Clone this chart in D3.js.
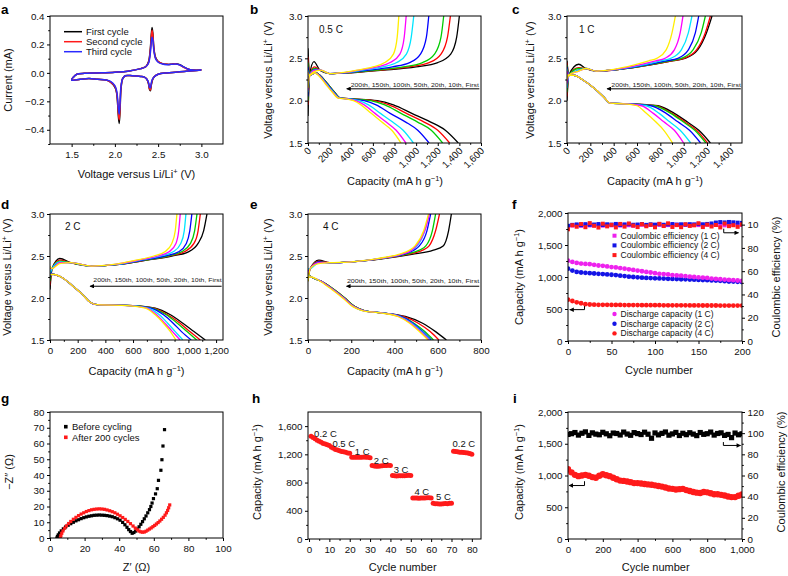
<!DOCTYPE html>
<html><head><meta charset="utf-8">
<script src="https://cdn.jsdelivr.net/npm/d3@7"></script>
<style>body{margin:0;background:#fff}svg{display:block}</style>
</head><body>
<script>
// ---------------- DATA ----------------
const cycleNames = ["First","10th","20th","50th","100th","150th","200th"];
const cycleColors = ["#000000","#ff0000","#00cc00","#0000ff","#00e5ff","#ff00ff","#ffee00"];
const noteText = "200th, 150th, 100th, 50th, 20th, 10th, First";

// (a) cyclic voltammetry
const cvNames = ["First cycle","Second cycle","Third cycle"];
const cvColors = ["#000000","#ff1a1a","#2a2aff"];
const cvV  = [3.00,2.90,2.80,2.70,2.60,2.50,2.45,2.43,2.42,2.41,2.40,2.39,2.37,2.34,2.30,2.20,2.12,2.09,2.07,2.06,2.05,2.04,2.03,2.02,2.00,1.95,1.90,1.80,1.70,1.60,1.50,1.52,1.56,1.65,1.80,2.00,2.15,2.30,2.36,2.39,2.41,2.42,2.43,2.44,2.45,2.47,2.50,2.55,2.60,2.65,2.70,2.75,2.80,2.85,2.90,3.00];
const cvI1 = [0.020,0.015,0.010,0.005,0.000,-0.010,-0.030,-0.060,-0.090,-0.125,-0.115,-0.080,-0.045,-0.030,-0.025,-0.020,-0.020,-0.040,-0.120,-0.260,-0.355,-0.300,-0.200,-0.140,-0.100,-0.065,-0.050,-0.045,-0.040,-0.045,-0.050,-0.030,-0.010,-0.003,0.000,0.005,0.012,0.030,0.045,0.080,0.170,0.260,0.320,0.270,0.180,0.110,0.080,0.065,0.060,0.060,0.065,0.058,0.040,0.025,0.020,0.020];
const cvI2 = [0.020,0.015,0.010,0.005,0.000,-0.010,-0.030,-0.055,-0.085,-0.120,-0.110,-0.075,-0.045,-0.030,-0.025,-0.020,-0.020,-0.040,-0.110,-0.240,-0.330,-0.280,-0.190,-0.135,-0.095,-0.065,-0.050,-0.045,-0.040,-0.045,-0.050,-0.030,-0.010,-0.003,0.000,0.005,0.012,0.030,0.045,0.075,0.160,0.240,0.300,0.260,0.175,0.105,0.080,0.065,0.060,0.060,0.065,0.055,0.038,0.025,0.020,0.020];
const cvI3 = [0.020,0.015,0.010,0.005,0.000,-0.010,-0.030,-0.050,-0.075,-0.105,-0.100,-0.070,-0.045,-0.030,-0.025,-0.020,-0.020,-0.040,-0.100,-0.210,-0.290,-0.250,-0.170,-0.125,-0.090,-0.060,-0.050,-0.045,-0.040,-0.045,-0.050,-0.030,-0.010,-0.003,0.000,0.005,0.012,0.030,0.045,0.070,0.140,0.210,0.250,0.230,0.160,0.100,0.075,0.062,0.058,0.060,0.062,0.055,0.040,0.025,0.020,0.020];

// (b) 0.5 C charge/discharge  [capacity at listed voltages]
const bDisStart = [2.62,2.52,2.45,2.40,2.36,2.34,2.33];
const bDisV = [2.30,2.33,2.30,2.20,2.10,2.03,2.02,2.00,1.95,1.85,1.75,1.65,1.50];
const bDisCap = [
 [15,70,110,180,245,300,420,640,790,960,1130,1270,1390],
 [15,70,110,180,245,300,420,610,750,910,1070,1200,1310],
 [15,70,110,180,245,300,410,580,710,860,1010,1140,1245],
 [15,65,105,175,240,295,390,520,630,760,900,1015,1120],
 [15,65,100,170,235,290,370,470,560,670,780,880,975],
 [15,60,100,165,230,285,360,440,520,620,720,815,905],
 [15,60,95,160,225,280,350,420,490,585,680,775,860]];
const bChgStart = [1.82,1.95,2.00,2.05,2.10,2.12,2.15];
const bChgPeak = [2.46,2.40,2.38,2.37,2.36,2.36,2.35];
const bChgV = [2.30,null,2.36,2.32,2.33,2.36,2.40,2.45,2.55,2.75,3.00];
const bChgCap = [
 [15,55,110,200,400,700,1000,1200,1320,1375,1400],
 [15,60,110,200,380,650,930,1120,1230,1290,1317],
 [15,60,110,200,370,620,880,1060,1170,1230,1255],
 [15,65,115,200,350,560,780,940,1040,1095,1117],
 [15,65,115,200,330,500,690,820,910,955,978],
 [15,70,120,200,320,470,640,760,850,890,908],
 [15,70,120,200,310,450,600,710,790,825,840]];

// (c) 1 C
const cDisStart = [2.47,2.45,2.42,2.40,2.38,2.35,2.30];
const cDisV = [2.30,2.30,2.25,2.15,2.05,1.97,1.96,1.94,1.85,1.75,1.65,1.50];
const cDisCap = [
 [15,60,130,230,310,370,600,780,920,1030,1130,1229],
 [15,60,130,230,310,370,590,760,900,1010,1110,1205],
 [15,60,130,230,310,370,580,750,890,995,1095,1190],
 [15,60,130,230,310,370,570,720,850,950,1050,1145],
 [15,60,130,230,310,370,550,680,790,880,970,1060],
 [15,60,130,230,310,370,530,640,740,830,920,1000],
 [15,60,130,230,310,370,510,600,680,760,830,905]];
const cChgStart = [2.00,2.05,2.10,2.15,2.15,2.20,2.25];
const cChgPeak = [2.43,2.39,2.38,2.36,2.36,2.35,2.35];
const cChgV = [2.30,null,2.38,2.35,2.37,2.42,2.47,2.50,2.60,2.80,3.00];
const cChgCap = [
 [15,100,160,250,450,700,900,1010,1120,1195,1243],
 [15,100,160,250,450,700,900,1000,1110,1185,1229],
 [15,100,160,250,450,690,880,980,1080,1150,1186],
 [15,100,160,250,440,670,850,950,1040,1100,1129],
 [15,100,160,250,430,640,800,890,980,1040,1071],
 [15,100,160,250,420,610,760,840,920,970,994],
 [15,100,160,250,400,570,700,770,850,900,929]];

// (d) 2 C
const dDisStart = [2.30,2.30,2.29,2.29,2.28,2.28,2.28];
const dDisV = [2.28,2.25,2.15,2.05,1.95,1.92,1.91,1.88,1.80,1.70,1.60,1.50];
const dDisCap = [
 [30,80,160,230,290,340,600,760,870,960,1040,1122],
 [30,80,160,230,290,340,600,750,850,940,1010,1086],
 [30,80,160,230,290,340,600,740,840,920,990,1060],
 [30,80,160,230,290,340,590,730,820,890,950,1020],
 [30,80,160,230,290,340,580,710,790,850,905,960],
 [30,80,160,230,290,340,570,700,770,830,885,940],
 [30,80,160,230,290,340,560,690,760,820,870,910]];
const dChgStart = [2.10,2.15,2.20,2.25,2.30,2.35,2.38];
const dChgPeak = [2.47,2.45,2.44,2.42,2.43,2.42,2.41];
const dChgV = [2.35,null,2.42,2.38,2.40,2.45,2.50,2.55,2.65,2.80,3.00];
const dChgCap = [
 [15,70,150,300,500,700,880,1000,1070,1110,1134],
 [15,70,150,300,500,690,860,970,1040,1070,1086],
 [15,70,150,300,500,680,850,950,1015,1045,1062],
 [15,70,150,300,490,670,830,930,985,1010,1025],
 [15,70,150,300,480,650,800,890,945,970,982],
 [15,70,150,300,470,640,780,860,910,930,941],
 [15,70,150,300,460,620,750,830,880,905,917]];

// (e) 4 C
const eDisStart = [2.28,2.28,2.28,2.27,2.27,2.26,2.25];
const eDisV = [2.25,2.20,2.10,2.00,1.90,1.85,1.82,1.78,1.70,1.60,1.50];
const eDisCap = [
 [15,60,120,170,215,260,350,450,530,590,640],
 [15,60,120,170,215,260,350,440,510,565,605],
 [15,60,120,170,215,260,350,430,490,540,580],
 [15,60,115,165,210,255,350,430,485,530,570],
 [15,60,115,165,210,255,350,425,480,525,565],
 [15,60,115,165,210,255,345,420,475,520,560],
 [15,55,110,160,205,250,340,415,470,515,555]];
const eChgStart = [2.20,2.25,2.30,2.32,2.35,2.30,2.20];
const eChgPeak = [2.45,2.44,2.43,2.43,2.42,2.42,2.41];
const eChgV = [2.35,null,2.42,2.43,2.47,2.52,2.57,2.62,2.80,3.00];
const eChgCap = [
 [10,50,100,200,350,480,580,625,650,663],
 [10,50,100,200,340,460,530,560,590,608],
 [10,50,100,200,340,450,515,545,575,590],
 [10,50,100,200,330,440,490,515,550,567],
 [10,50,100,200,330,430,480,505,540,560],
 [10,50,100,200,330,430,480,500,540,562],
 [10,50,100,200,320,420,470,495,535,557]];

// (f) long cycling at 1, 2, 4 C (every 5th cycle)
const fCycles = [0,5,10,15,20,25,30,35,40,45,50,55,60,65,70,75,80,85,90,95,100,105,110,115,120,125,130,135,140,145,150,155,160,165,170,175,180,185,190,195,200];
const fCap1C = [1255,1235,1220,1210,1205,1200,1190,1180,1175,1165,1155,1150,1140,1130,1120,1110,1100,1090,1080,1070,1060,1050,1045,1040,1030,1025,1020,1015,1005,1000,995,990,985,975,970,965,960,955,950,945,940];
const fCap2C = [1130,1100,1080,1070,1065,1060,1055,1050,1045,1040,1035,1030,1020,1015,1005,1000,995,990,985,983,980,978,975,972,970,968,965,963,960,958,955,952,950,947,945,940,935,930,928,925,920];
const fCap4C = [645,625,605,590,575,570,568,566,565,565,564,563,563,562,562,561,561,560,560,560,559,559,558,558,558,557,557,557,556,556,556,555,555,555,555,554,554,554,553,553,553];
const fCE1C = [98.5,99.2,99.6,99.0,99.8,99.3,99.5,99.9,99.1,99.6,99.4,99.8,99.2,99.7,99.5,99.0,99.6,99.9,99.3,99.7,99.4,99.8,99.1,99.6,99.5,99.9,99.2,99.7,99.4,99.8,99.6,99.3,99.9,99.5,99.7,99.8,99.4,99.6,99.9,99.5,99.7];
const fCE2C = [99.0,99.8,100.2,99.6,100.4,99.9,100.1,100.5,99.7,100.3,100.0,100.6,99.8,100.2,100.4,99.9,100.1,100.5,99.8,100.3,100.0,100.4,99.9,100.2,100.5,100.0,100.3,100.1,100.4,100.2,100.5,100.3,100.6,101.0,101.8,102.2,101.9,102.3,102.0,101.7,101.5];
const fCE4C = [96.0,99.5,98.2,100.5,97.8,101.3,99.0,97.5,100.8,98.5,99.8,97.6,100.6,98.3,101.0,99.2,97.9,100.4,98.6,99.9,97.7,100.7,98.8,101.1,98.0,99.6,97.8,100.3,98.9,99.4,101.2,97.9,100.0,98.4,99.7,97.6,100.9,98.7,99.5,98.1,100.2];
const fSeriesNames = ["1 C","2 C","4 C"];
const fColors = ["#ee22ee","#1414e6","#ff1a1a"];
const fRightTickLabels = ["0","20","40","60","80","10"];

// (g) impedance
const gBefore = [[4,0],[4.3,1],[4.8,2],[5.5,3.2],[6.5,4.5],[7.7,5.8],[9,7],[10.5,8.1],[12,9.1],[13.5,10],[15,10.9],[16.5,11.6],[18,12.3],[19.5,12.9],[21,13.4],[22.5,13.8],[24,14.1],[25.5,14.4],[27,14.5],[28.5,14.6],[30,14.5],[31.5,14.4],[33,14.2],[34.5,13.9],[36,13.5],[37.5,12.9],[39,12.2],[40.5,11.3],[42,9.9],[43.3,8.4],[44.5,6.8],[45.5,5.3],[46.5,4.1],[47.5,3.0],[48.5,3.5],[49.5,4.4],[50.5,5.6],[51.5,7.1],[52.5,8.7],[53.5,10.4],[54.5,12.2],[55.5,14],[56.5,16],[57.5,18],[58.3,20],[59,22.2],[59.8,25],[61,28],[62,31.3],[62.7,36.6],[64.1,43],[64.7,49.7],[65.3,58.4],[66.2,68.8]];
const gAfter = [[6,0],[6.3,1.5],[6.8,3],[7.5,4.5],[8.5,6.2],[9.5,7.7],[10.8,9.2],[12,10.5],[13.5,11.9],[15,13.1],[16.5,14.2],[18,15.2],[19.5,16],[21,16.8],[22.5,17.4],[24,17.9],[25.5,18.2],[27,18.4],[28.5,18.5],[30,18.4],[31.5,18.2],[33,17.8],[34.5,17.3],[36,16.7],[37.5,16],[39,15.1],[40.5,14.1],[42,13],[43.5,11.8],[45,10.5],[46.5,9.1],[48,7.6],[49.3,6.3],[50.5,5.2],[51.5,4.4],[52.5,3.9],[53.5,3.7],[54.5,3.8],[55.5,4.3],[56.5,5],[57.5,5.7],[58.5,6.4],[59.5,7.2],[60.5,8],[61.5,8.9],[62.5,9.8],[63.5,10.8],[64.5,11.9],[65.5,13.1],[66.5,14.5],[67.3,16],[68,17.5],[68.6,19.2],[69.2,21]];
const gNames = ["Before cycling","After 200 cycles"];

// (h) rate capability
const hCycles = [1,2,3,4,5,6,7,8,9,10,11,12,13,14,15,16,17,18,19,20,21,22,23,24,25,26,27,28,29,30,31,32,33,34,35,36,37,38,39,40,41,42,43,44,45,46,47,48,49,50,51,52,53,54,55,56,57,58,59,60,61,62,63,64,65,66,67,68,69,70,71,72,73,74,75,76,77,78,79,80];
const hCap = [1455,1440,1420,1400,1385,1370,1355,1345,1335,1325,
 1300,1285,1270,1260,1250,1240,1235,1228,1220,1215,
 1160,1158,1160,1157,1158,1160,1162,1158,1160,1150,
 1040,1035,1030,1032,1035,1038,1040,1042,1045,1040,
 900,895,893,895,897,896,898,900,902,900,
 580,582,580,578,580,582,580,583,585,582,
 505,500,498,495,497,500,502,500,505,508,
 1245,1240,1235,1230,1228,1225,1222,1218,1212,1200];
const hRateLabels = ["0.2 C","0.5 C","1 C","2 C","3 C","4 C","5 C","0.2 C"];
const hLabelCycle = [2.5,11.5,22.5,31.8,41.6,51.8,62.4,70.5];
const hLabelCap = [1490,1350,1240,1115,985,675,595,1345];

// (i) long-term cycling (every 20th cycle)
const iCycles = [0,20,40,60,80,100,120,140,160,180,200,220,240,260,280,300,320,340,360,380,400,420,440,460,480,500,520,540,560,580,600,620,640,660,680,700,720,740,760,780,800,820,840,860,880,900,920,940,960,980,1000];
const iCap = [1100,1050,1010,990,1000,1010,995,975,965,995,1020,1005,990,965,940,920,915,905,895,880,880,875,865,860,855,845,835,825,810,795,790,780,785,790,770,755,740,730,725,740,735,720,705,705,695,685,670,660,660,680,700];
const iCE = [98.8,99.5,100.6,98.2,99.9,101.2,97.9,100.3,99.1,98.5,100.8,99.4,97.6,100.1,99.7,98.3,101.0,99.2,98.0,100.5,99.6,98.7,100.9,99.0,95.2,100.2,98.4,99.8,101.1,98.1,99.3,100.7,97.8,99.9,98.6,100.4,99.1,97.7,100.6,98.9,99.5,101.0,98.2,99.7,100.3,97.9,98.8,95.8,100.1,98.5,99.4];

// ---------------- DRAWING ----------------
const FONT = "'Liberation Sans', Arial, Helvetica, sans-serif";
const LBL = 11;
const svg = d3.select("body").append("svg").attr("width",788).attr("height",576)
  .attr("font-family",FONT);
const defs = svg.append("defs");
defs.append("marker").attr("id","arr").attr("viewBox","0 0 10 10").attr("refX",9).attr("refY",5)
  .attr("markerWidth",5).attr("markerHeight",4.5).attr("orient","auto")
  .append("path").attr("d","M0,0L10,5L0,10z").attr("fill","#000");

let clipN = 0;
function makePanel(r, xd, yd) {
  const x = d3.scaleLinear().domain(xd).range([r.x0, r.x1]);
  const y = d3.scaleLinear().domain(yd).range([r.y1, r.y0]);
  const g = svg.append("g");
  const id = "clip" + (++clipN);
  defs.append("clipPath").attr("id", id).append("rect")
    .attr("x", r.x0).attr("y", r.y0).attr("width", r.x1 - r.x0).attr("height", r.y1 - r.y0);
  const plot = g.append("g").attr("clip-path", `url(#${id})`);
  return {x, y, g, plot, r};
}
function frame(p) {
  p.g.append("rect").attr("x", p.r.x0).attr("y", p.r.y0).attr("width", p.r.x1 - p.r.x0)
    .attr("height", p.r.y1 - p.r.y0).attr("fill", "none").attr("stroke", "#000").attr("stroke-width", 1);
}
function styleAxis(a) {
  a.select(".domain").remove();
  a.selectAll("line").attr("stroke", "#000");
  a.selectAll("text").attr("font-size", 9.8).attr("fill", "#111").attr("font-family", FONT);
}
function bottomAxis(p, ticks, minor, fmt, rot) {
  const a = p.g.append("g").attr("transform", `translate(0,${p.r.y1})`)
    .call(d3.axisBottom(p.x).tickValues(ticks).tickSize(3).tickPadding(4).tickFormat(fmt));
  styleAxis(a);
  if (rot) a.selectAll("text").attr("text-anchor", "end").attr("y", 0).attr("dy", "0.35em")
    .attr("transform", "translate(1,6) rotate(-45)");
  if (minor) styleAxis(p.g.append("g").attr("transform", `translate(0,${p.r.y1})`)
    .call(d3.axisBottom(p.x).tickValues(minor).tickSize(1.8).tickFormat("")));
}
function leftAxis(p, ticks, minor, fmt) {
  const a = p.g.append("g").attr("transform", `translate(${p.r.x0},0)`)
    .call(d3.axisLeft(p.y).tickValues(ticks).tickSize(3).tickPadding(2.5).tickFormat(fmt));
  styleAxis(a);
  if (minor) styleAxis(p.g.append("g").attr("transform", `translate(${p.r.x0},0)`)
    .call(d3.axisLeft(p.y).tickValues(minor).tickSize(1.8).tickFormat("")));
}
function rightAxis(p, yS, ticks, minor, fmt) {
  const a = p.g.append("g").attr("transform", `translate(${p.r.x1},0)`)
    .call(d3.axisRight(yS).tickValues(ticks).tickSize(3).tickPadding(2.5).tickFormat(fmt));
  styleAxis(a);
  if (minor) styleAxis(p.g.append("g").attr("transform", `translate(${p.r.x1},0)`)
    .call(d3.axisRight(yS).tickValues(minor).tickSize(1.8).tickFormat("")));
}
// label made of parts [text, superscript?]; (x,y) is the visual centre
function label(x, y, parts, rotate) {
  const t = svg.append("text").attr("text-anchor", "middle").attr("font-size", LBL).attr("fill", "#111")
    .attr("transform", `translate(${x},${y})` + (rotate ? " rotate(-90)" : ""));
  let prevSup = false, first = true;
  parts.forEach(([s, sup]) => {
    const ts = t.append("tspan").text(s);
    let dy = 0;
    if (sup) { ts.attr("font-size", 7.5); dy = -3.8; }
    else if (prevSup) dy = 3.8;
    if (rotate && first) dy += 3.8;
    ts.attr("dy", dy);
    prevSup = !!sup; first = false;
  });
  return t;
}
function letter(x, y, s) {
  svg.append("text").attr("x", x).attr("y", y).attr("font-size", 13.5).attr("font-weight", "bold").attr("fill", "#000").text(s);
}
const fmtC = d3.format(",");
const fmt1 = d3.format(".1f");
const VL = [["Voltage versus Li/Li"], ["+", true], [" (V)"]];
const CAPL = [["Capacity (mA h g"], ["\u22121", true], [")"]];

const R = {
  a:{x0:50,x1:223,y0:16,y1:144}, b:{x0:308,x1:481,y0:16,y1:143}, c:{x0:567,x1:742,y0:16,y1:143},
  d:{x0:50,x1:223,y0:214,y1:340}, e:{x0:308,x1:481,y0:214,y1:340}, f:{x0:568,x1:742,y0:213,y1:341},
  g:{x0:50,x1:223,y0:412,y1:538}, h:{x0:308,x1:481,y0:412,y1:539}, i:{x0:568,x1:742,y0:412,y1:539}
};

// ---- (a)
{
  const p = makePanel(R.a, [1.25, 3.25], [-0.5, 0.4]);
  const line = d3.line().x(d => p.x(d[0])).y(d => p.y(d[1])).curve(d3.curveCatmullRom.alpha(0.5));
  [cvI1, cvI2, cvI3].forEach((I, k) => {
    p.plot.append("path").datum(cvV.map((v, j) => [v, I[j]])).attr("d", line)
      .attr("fill", "none").attr("stroke", cvColors[k]).attr("stroke-width", 1.5);
  });
  frame(p);
  bottomAxis(p, [1.5, 2.0, 2.5, 3.0], [1.75, 2.25, 2.75], fmt1);
  leftAxis(p, [-0.4, -0.2, 0, 0.2, 0.4], [-0.5, -0.3, -0.1, 0.1, 0.3], fmt1);
  cvNames.forEach((n, k) => {
    const yy = 31.7 + k * 10;
    p.g.append("line").attr("x1", 64).attr("x2", 82).attr("y1", yy).attr("y2", yy).attr("stroke", cvColors[k]).attr("stroke-width", 1.5);
    p.g.append("text").attr("x", 86).attr("y", yy + 3.3).attr("font-size", 9.5).attr("fill", "#111").text(n);
  });
  label(8, 80, [["Current (mA)"]], true);
  label(136.5, 178, VL, false);
  letter(1, 14, "a");
}

// ---- (b)-(e)
function gcPanel(p, disStart, disV, disCap, chgStart, chgV, chgPeak, chgCap) {
  const line = d3.line().x(d => p.x(d[0])).y(d => p.y(d[1])).curve(d3.curveMonotoneX);
  cycleNames.forEach((nm, i) => {
    const dis = [[0, disStart[i]]].concat(disCap[i].map((q, k) => [q, disV[k]]));
    const chg = [[0, chgStart[i]]].concat(chgCap[i].map((q, k) => [q, chgV[k] === null ? chgPeak[i] : chgV[k]]));
    [dis, chg].forEach(pts => p.plot.append("path").datum(pts).attr("d", line)
      .attr("fill", "none").attr("stroke", cycleColors[i]).attr("stroke-width", 1.3));
  });
}
function gcNote(p, tx0, tx1, ty, ax0, ax1, ay) {
  p.g.append("text").attr("x", p.x(tx0)).attr("y", p.y(ty)).attr("font-size", 6).attr("fill", "#222")
    .attr("textLength", p.x(tx1) - p.x(tx0)).attr("lengthAdjust", "spacingAndGlyphs").text(noteText);
  p.g.append("line").attr("x1", p.x(ax0)).attr("x2", p.x(ax1)).attr("y1", p.y(ay)).attr("y2", p.y(ay))
    .attr("stroke", "#000").attr("stroke-width", 1).attr("marker-end", "url(#arr)");
}
const vTicks = [1.5, 2.0, 2.5, 3.0], vMinor = [1.75, 2.25, 2.75];
{
  const p = makePanel(R.b, [0, 1600], [1.5, 3.0]);
  gcPanel(p, bDisStart, bDisV, bDisCap, bChgStart, bChgV, bChgPeak, bChgCap);
  frame(p);
  bottomAxis(p, d3.range(0, 1601, 200), d3.range(100, 1600, 200), fmtC, true);
  leftAxis(p, vTicks, vMinor, fmt1);
  gcNote(p, 395, 1580, 2.167, 1585, 358, 2.14);
  p.g.append("text").attr("x", 319).attr("y", 33).attr("font-size", 10).attr("fill", "#111").text("0.5 C");
  label(268, 80, VL, true);
  label(395, 185, CAPL, false);
  letter(250, 14, "b");
}
{
  const p = makePanel(R.c, [0, 1500], [1.5, 3.0]);
  gcPanel(p, cDisStart, cDisV, cDisCap, cChgStart, cChgV, cChgPeak, cChgCap);
  frame(p);
  bottomAxis(p, d3.range(0, 1401, 200), d3.range(100, 1500, 200), fmtC, true);
  leftAxis(p, vTicks, vMinor, fmt1);
  gcNote(p, 380, 1490, 2.167, 1490, 343, 2.14);
  p.g.append("text").attr("x", 579).attr("y", 33).attr("font-size", 10).attr("fill", "#111").text("1 C");
  label(530, 80, VL, true);
  label(655, 185, CAPL, false);
  letter(512, 14, "c");
}
{
  const p = makePanel(R.d, [0, 1250], [1.5, 3.0]);
  gcPanel(p, dDisStart, dDisV, dDisCap, dChgStart, dChgV, dChgPeak, dChgCap);
  frame(p);
  bottomAxis(p, d3.range(0, 1201, 200), d3.range(100, 1250, 200), fmtC);
  leftAxis(p, vTicks, vMinor, fmt1);
  gcNote(p, 313, 1240, 2.185, 1240, 289, 2.14);
  p.g.append("text").attr("x", 65).attr("y", 230).attr("font-size", 10).attr("fill", "#111").text("2 C");
  label(7, 277, VL, true);
  label(136.5, 375, CAPL, false);
  letter(1, 209, "d");
}
{
  const p = makePanel(R.e, [0, 800], [1.5, 3.0]);
  gcPanel(p, eDisStart, eDisV, eDisCap, eChgStart, eChgV, eChgPeak, eChgCap);
  frame(p);
  bottomAxis(p, d3.range(0, 801, 200), d3.range(100, 800, 200), fmtC);
  leftAxis(p, vTicks, vMinor, fmt1);
  gcNote(p, 180, 792, 2.18, 792, 178, 2.14);
  p.g.append("text").attr("x", 323).attr("y", 230).attr("font-size", 10).attr("fill", "#111").text("4 C");
  label(268, 277, VL, true);
  label(395, 375, CAPL, false);
  letter(250, 209, "e");
}

// ---- (f)
{
  const p = makePanel(R.f, [0, 200], [0, 2000]);
  const yR = d3.scaleLinear().domain([0, 110]).range([R.f.y1, R.f.y0]);
  [fCE1C, fCE2C, fCE4C].forEach((s, k) => {
    p.plot.selectAll(null).data(s).enter().append("rect")
      .attr("x", (d, j) => p.x(fCycles[j]) - 2).attr("y", d => yR(d) - 2)
      .attr("width", 4).attr("height", 4).attr("fill", fColors[k]);
  });
  [fCap4C, fCap2C, fCap1C].forEach((s, kk) => {
    const k = 2 - kk;
    p.plot.selectAll(null).data(s).enter().append("circle")
      .attr("cx", (d, j) => p.x(fCycles[j])).attr("cy", d => p.y(d)).attr("r", 2.4).attr("fill", fColors[k]);
  });
  frame(p);
  bottomAxis(p, [0, 50, 100, 150, 200], [25, 75, 125, 175], d3.format("d"));
  leftAxis(p, [0, 500, 1000, 1500, 2000], [250, 750, 1250, 1750], fmtC);
  rightAxis(p, yR, [0, 20, 40, 60, 80, 100], [10, 30, 50, 70, 90], (d, j) => fRightTickLabels[j]);
  fSeriesNames.forEach((n, k) => {
    const y1 = 235.7 + k * 9.7, y2 = 314 + k * 9.7;
    p.g.append("rect").attr("x", 612.5).attr("y", y1 - 2).attr("width", 4).attr("height", 4).attr("fill", fColors[k]);
    p.g.append("text").attr("x", 620.5).attr("y", y1 + 3).attr("font-size", 8.5).attr("fill", "#111").text(`Coulombic efficiency (${n})`);
    p.g.append("circle").attr("cx", 614.5).attr("cy", y2).attr("r", 2.2).attr("fill", fColors[k]);
    p.g.append("text").attr("x", 620.5).attr("y", y2 + 3).attr("font-size", 8.5).attr("fill", "#111").text(`Discharge capacity (${n})`);
  });
  p.g.append("path").attr("d", `M${p.x(19)},${p.y(545)}V${p.y(490)}H${p.x(2)}`)
    .attr("fill", "none").attr("stroke", "#000").attr("stroke-width", 1).attr("marker-end", "url(#arr)");
  p.g.append("path").attr("d", `M${p.x(179)},${yR(96.5)}V${yR(93)}H${p.x(196)}`)
    .attr("fill", "none").attr("stroke", "#000").attr("stroke-width", 1).attr("marker-end", "url(#arr)");
  label(519, 277, CAPL, true);
  label(776, 277, [["Coulombic efficiency (%)"]], true);
  label(659, 374, [["Cycle number"]], false);
  letter(512, 209, "f");
}

// ---- (g)
{
  const p = makePanel(R.g, [0, 100], [0, 80]);
  [gBefore, gAfter].forEach((s, k) => {
    p.plot.selectAll(null).data(s).enter().append("rect")
      .attr("x", d => p.x(d[0]) - 1.6).attr("y", d => p.y(d[1]) - 1.6)
      .attr("width", 3.2).attr("height", 3.2).attr("fill", k ? "#ff1a1a" : "#000");
  });
  frame(p);
  bottomAxis(p, [0, 20, 40, 60, 80, 100], [10, 30, 50, 70, 90], d3.format("d"));
  leftAxis(p, d3.range(0, 81, 10), d3.range(5, 80, 10), d3.format("d"));
  gNames.forEach((n, k) => {
    const yy = 426.7 + k * 10.6;
    p.g.append("rect").attr("x", 64).attr("y", yy - 1.8).attr("width", 3.6).attr("height", 3.6).attr("fill", k ? "#ff1a1a" : "#000");
    p.g.append("text").attr("x", 72).attr("y", yy + 3.3).attr("font-size", 9.5).attr("fill", "#111").text(n);
  });
  label(9, 472, [["\u2212Z\u2033 (\u03a9)"]], true);
  label(136.5, 571, [["Z\u2032 (\u03a9)"]], false);
  letter(1, 403, "g");
}

// ---- (h)
{
  const p = makePanel(R.h, [-0.5, 84.5], [0, 1800]);
  p.plot.selectAll(null).data(hCap).enter().append("circle")
    .attr("cx", (d, j) => p.x(hCycles[j])).attr("cy", d => p.y(d)).attr("r", 2.5).attr("fill", "#ff1a1a");
  frame(p);
  bottomAxis(p, d3.range(0, 81, 10), d3.range(5, 85, 10), d3.format("d"));
  leftAxis(p, [0, 400, 800, 1200, 1600], [200, 600, 1000, 1400], fmtC);
  hRateLabels.forEach((s, k) => {
    p.g.append("text").attr("x", p.x(hLabelCycle[k])).attr("y", p.y(hLabelCap[k])).attr("dy", "0.35em")
      .attr("font-size", 9.5).attr("fill", "#111").text(s);
  });
  label(257, 472, CAPL, true);
  label(402.7, 571, [["Cycle number"]], false);
  letter(252, 403, "h");
}

// ---- (i)
{
  const p = makePanel(R.i, [0, 1000], [0, 2000]);
  const yR = d3.scaleLinear().domain([0, 120]).range([R.i.y1, R.i.y0]);
  p.plot.selectAll(null).data(iCE).enter().append("rect")
    .attr("x", (d, j) => p.x(iCycles[j]) - 2.6).attr("y", d => yR(d) - 2.6)
    .attr("width", 5.2).attr("height", 5.2).attr("fill", "#000");
  p.plot.selectAll(null).data(iCap).enter().append("circle")
    .attr("cx", (d, j) => p.x(iCycles[j])).attr("cy", d => p.y(d)).attr("r", 3.2).attr("fill", "#ff1a1a");
  frame(p);
  bottomAxis(p, d3.range(0, 1001, 200), d3.range(100, 1000, 200), fmtC);
  leftAxis(p, [0, 500, 1000, 1500, 2000], [250, 750, 1250, 1750], fmtC);
  rightAxis(p, yR, d3.range(0, 121, 20), d3.range(10, 120, 20), d3.format("d"));
  p.g.append("path").attr("d", `M${p.x(95)},${p.y(910)}V${p.y(842)}H${p.x(6)}`)
    .attr("fill", "none").attr("stroke", "#000").attr("stroke-width", 1).attr("marker-end", "url(#arr)");
  p.g.append("path").attr("d", `M${p.x(893)},${yR(91.6)}V${yR(88.4)}H${p.x(992)}`)
    .attr("fill", "none").attr("stroke", "#000").attr("stroke-width", 1).attr("marker-end", "url(#arr)");
  label(519, 472, CAPL, true);
  label(781, 472, [["Coulombic efficiency (%)"]], true);
  label(655.7, 571, [["Cycle number"]], false);
  letter(513, 403, "i");
}
</script>
</body></html>
